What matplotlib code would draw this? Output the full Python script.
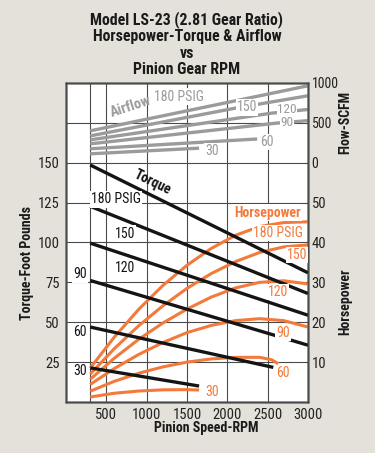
import matplotlib
matplotlib.use("Agg")
import matplotlib.pyplot as plt
from matplotlib import font_manager

names = {f.name for f in font_manager.fontManager.ttflist}
narrow_prefs = ['Liberation Sans Narrow', 'Arial Narrow', 'Noto Sans Condensed',
                'Roboto Condensed', 'Open Sans Condensed', 'Noto Sans SemiCondensed']
narrow = [n for n in narrow_prefs if n in names]
if narrow:
    FAM = [narrow[0], 'DejaVu Sans']
    K = 1.0
else:
    FAM = ['Liberation Sans', 'DejaVu Sans']
    K = 0.86
plt.rcParams['font.family'] = FAM

# ---------------- data ----------------
title_lines = ["Model LS-23 (2.81 Gear Ratio)", "Horsepower-Torque & Airflow", "vs", "Pinion Gear RPM"]
pressures = ["180", "150", "120", "90", "60", "30"]

# Torque (ft-lb) vs rpm, straight lines
tq_rpm = {"180": [300, 3000], "150": [300, 3000], "120": [300, 3000],
          "90": [300, 3000], "60": [300, 2570], "30": [300, 1650]}
tq_val = {"180": [148.6, 81.0], "150": [122.7, 68.0], "120": [99.6, 54.4],
          "90": [76.2, 35.6], "60": [47.0, 21.7], "30": [21.4, 10.0]}

# Horsepower vs rpm
hp_rpm_full = [300, 600, 900, 1200, 1500, 1800, 2100, 2400, 2700, 3000]
hp_rpm = {"180": hp_rpm_full, "150": hp_rpm_full, "120": hp_rpm_full, "90": hp_rpm_full,
          "60": [300, 600, 900, 1200, 1500, 1800, 2100, 2400, 2550, 2630],
          "30": [300, 600, 900, 1200, 1500, 1650]}
hp_val = {"180": [8.5, 16.3, 23.2, 29.2, 34.3, 38.5, 41.8, 44.0, 45.0, 45.2],
          "150": [7.0, 13.4, 19.1, 24.1, 28.5, 32.2, 35.2, 37.5, 38.9, 39.4],
          "120": [5.7, 11.0, 15.7, 19.8, 23.3, 26.3, 28.6, 30.0, 30.4, 29.6],
          "90": [4.4, 8.4, 11.9, 14.9, 17.4, 19.2, 20.4, 20.9, 20.4, 18.8],
          "60": [2.7, 5.2, 7.2, 8.8, 10.0, 10.8, 11.2, 11.2, 10.6, 9.6],
          "30": [1.25, 2.2, 2.75, 3.05, 3.1, 3.0]}

# Airflow (SCFM) vs rpm
af_rpm = {"180": [300, 3000], "150": [300, 2100, 3000], "120": [300, 2550, 3000],
          "90": [300, 2600, 3000], "60": [300, 2370], "30": [300, 1650]}
af_val = {"180": [400, 965], "150": [337, 685, 840], "120": [287, 622, 668],
          "90": [237, 496, 528], "60": [175, 298], "30": [112, 183]}

x_ticks = [500, 1000, 1500, 2000, 2500, 3000]
tq_ticks = [25, 50, 75, 100, 125, 150]
hp_ticks = [10, 20, 30, 40, 50]
flow_ticks = [0, 500, 1000]

# ---------------- style ----------------
BG = '#e4e0da'
ORANGE = '#f37a3a'
GRAY = '#9b9b9b'
BLACK = '#141414'
GRID = '#4a4a4a'
TXT = '#1a1a1a'

fig = plt.figure(figsize=(3.75, 4.53), dpi=100, facecolor=BG)
pos = [66/375, 1-402/453, 242/375, 319/453]
ax = fig.add_axes(pos)
ax.set_facecolor('white')
ax.set_xlim(0, 3000)
ax.set_ylim(0, 200)
ax.set_xticks([300] + x_ticks)
ax.set_xticklabels([''] + [str(v) for v in x_ticks])
ax.set_yticks(tq_ticks + [175])
ax.set_yticklabels([str(v) for v in tq_ticks] + [''])
ax.grid(True, color=GRID, lw=0.8)
ax.set_axisbelow(True)
ax.tick_params(length=0, labelsize=10.5*K, colors='#222222')
ax.tick_params(axis='y', pad=4.5)
ax.tick_params(axis='x', pad=4)

ax_flow = ax.twinx()
ax_flow.set_ylim(-3000, 1000)
ax_flow.set_yticks(flow_ticks)
ax_flow.tick_params(length=0, labelsize=10*K, pad=2.5, colors='#222222')

ax_hp = ax.twinx()
ax_hp.set_ylim(0, 80)
ax_hp.set_yticks(hp_ticks)
ax_hp.tick_params(length=0, labelsize=10.5*K, pad=2.5, colors='#222222')

ax_tq = ax.twinx()
ax_tq.set_ylim(0, 200)
ax_tq.set_yticks([])

for a in (ax, ax_flow, ax_hp, ax_tq):
    for s in a.spines.values():
        s.set_color(GRID)
        s.set_linewidth(1.0)

for p in pressures:
    ax_flow.plot(af_rpm[p], af_val[p], color=GRAY, lw=2.4, solid_capstyle='butt')
    ax_hp.plot(hp_rpm[p], hp_val[p], color=ORANGE, lw=2.2, solid_joinstyle='round', solid_capstyle='butt')
    ax_tq.plot(tq_rpm[p], tq_val[p], color=BLACK, lw=2.4, solid_capstyle='butt')

def lab(x, y, s, tr, color, size=10, weight='normal', rot=0, ha='center', bb=True, pad=0.8):
    ax_tq.text(x, y, s, transform=tr, color=color, fontsize=size*K, fontweight=weight,
               rotation=rot, ha=ha, va='center', rotation_mode='anchor',
               bbox=dict(fc='white', ec='none', pad=pad) if bb else None, zorder=10)

# airflow labels
lab(800, 700, "Airflow", ax_flow.transData, GRAY, 10.5, 'bold', 18, bb=False)
lab(1400, 830, "180 PSIG", ax_flow.transData, GRAY)
lab(2245, 694, "150", ax_flow.transData, GRAY)
lab(2742, 662, "120", ax_flow.transData, GRAY, 9.6, pad=0.3)
lab(2742, 503, "90", ax_flow.transData, GRAY, 9.6, pad=0.3)
lab(2494, 262, "60", ax_flow.transData, GRAY)
lab(1811, 150, "30", ax_flow.transData, GRAY)

# torque labels
lab(1067, 137.5, "Torque", ax_tq.transData, BLACK, 10, 'bold', -26, bb=False)
lab(620, 127, "180 PSIG", ax_tq.transData, BLACK)
lab(732, 105.6, "150", ax_tq.transData, BLACK)
lab(732, 83.8, "120", ax_tq.transData, BLACK)
lab(174, 80, "90", ax_tq.transData, BLACK)
lab(174, 43.8, "60", ax_tq.transData, BLACK)
lab(174, 19.4, "30", ax_tq.transData, BLACK)

# horsepower labels
lab(2494, 47.5, "Horsepower", ax_hp.transData, ORANGE, 10, 'bold')
lab(2630, 42.3, "180 PSIG", ax_hp.transData, ORANGE)
lab(2866, 36.8, "150", ax_hp.transData, ORANGE)
lab(2630, 27.5, "120", ax_hp.transData, ORANGE)
lab(2692, 17.3, "90", ax_hp.transData, ORANGE)
lab(2692, 7.3, "60", ax_hp.transData, ORANGE)
lab(1811, 2.5, "30", ax_hp.transData, ORANGE)

# axis titles
AL = 10*K
ax.text(-0.161, 0.436, "Torque-Foot Pounds", transform=ax.transAxes, rotation=90,
        ha='center', va='center', fontsize=AL, fontweight='bold', color=TXT)
ax.text(1.152, 0.875, "Flow-SCFM", transform=ax.transAxes, rotation=90,
        ha='center', va='center', fontsize=AL, fontweight='bold', color=TXT)
ax.text(1.152, 0.313, "Horsepower", transform=ax.transAxes, rotation=90,
        ha='center', va='center', fontsize=AL, fontweight='bold', color=TXT)
ax.text(0.58, -0.0815, "Pinion Speed-RPM", transform=ax.transAxes,
        ha='center', va='center', fontsize=AL, fontweight='bold', color=TXT)

# title
for s, yp in zip(title_lines, [20, 36, 53.5, 70]):
    fig.text(187/375, 1 - yp/453, s, ha='center', va='center', fontsize=11.4*K,
             fontweight='bold', color=TXT)

fig.savefig("out.png", dpi=100, facecolor=BG)
